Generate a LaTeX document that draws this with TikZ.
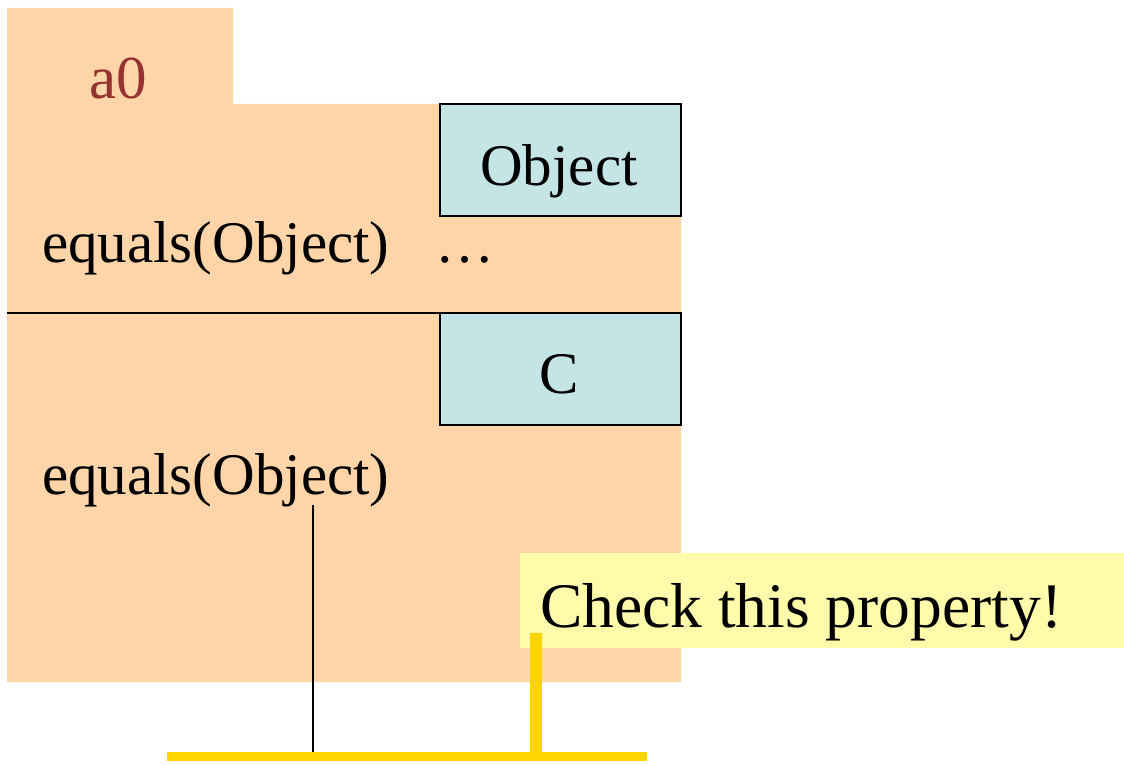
\documentclass[tikz,border=0pt]{standalone}
\usepackage{fontspec}
\setmainfont{Liberation Serif}
\definecolor{peach}{RGB}{253,213,169}
\definecolor{lblue}{RGB}{196,228,230}
\definecolor{note}{RGB}{255,251,170}
\definecolor{gold}{RGB}{255,212,0}
\definecolor{darkred}{RGB}{150,50,50}
\begin{document}
\begin{tikzpicture}[x=1pt,y=-1pt,
  txt/.style={inner sep=0pt,anchor=base west,font=\fontsize{59}{61}\selectfont},
  ctxt/.style={inner sep=0pt,anchor=base,font=\fontsize{59}{61}\selectfont},
  cls/.style={draw=black,line width=1.5pt,fill=lblue,inner sep=0pt,minimum width=241pt,minimum height=112pt}]
\useasboundingbox (0,0) rectangle (1124,765);
% object body
\fill[peach] (7,8) -- (233,8) -- (233,104) -- (681,104) -- (681,682) -- (7,682) -- cycle;
\draw[line width=1.5pt] (7,313) -- (681,313);
\node[txt,text=darkred,font=\fontsize{61}{63}\selectfont] (a0) at (89,99) {a0};
\node[cls] (obj) at (560.5,160) {};
\node[ctxt] (objlbl) at (559,185) {Object};
\node[cls] (c) at (560.5,369) {};
\node[ctxt] (clbl) at (559,393) {C};
\node[txt] (eq1) at (42,262) {equals(Object)};
\node[txt] (dots) at (435,262) {\dots};
\node[txt] (eq2) at (42,494) {equals(Object)};
% note
\node[fill=note,inner sep=0pt,minimum width=604pt,minimum height=95pt,anchor=north west] (nt) at (520,553) {};
\node[txt,font=\fontsize{63.5}{65}\selectfont] (chk) at (540,627) {Check this property!};
% lines
\coordinate (vtop) at (313,505);
\coordinate (vbot) at (313,756);
\coordinate (hl) at (167,756);
\coordinate (hr) at (647,756);
\coordinate (gtop) at (536,633);
\coordinate (gbot) at (536,756);
\draw[line width=1.5pt] (vtop) -- (vbot);
\draw[draw=gold,line width=9pt] (hl) -- (hr);
\draw[draw=gold,line width=12pt] (gtop) -- (gbot);
\end{tikzpicture}
\end{document}
